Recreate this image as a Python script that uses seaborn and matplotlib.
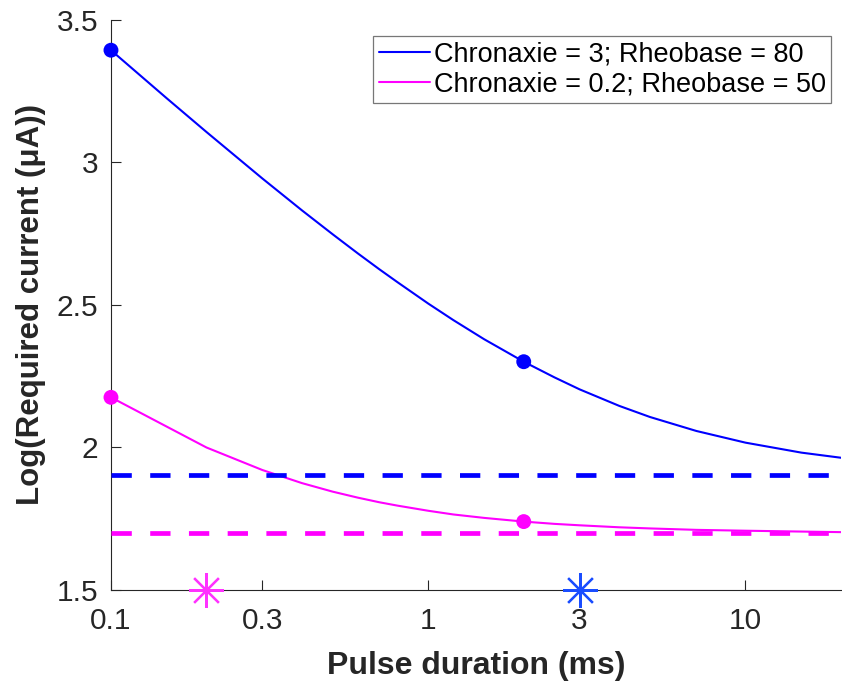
import matplotlib
matplotlib.use("Agg")
import matplotlib.pyplot as plt
import seaborn as sns
import pandas as pd

# pulse duration (ms) and log10 of required current
pulse_ms = [0.1, 0.15, 0.2, 0.3, 0.4, 0.5, 0.6, 0.7, 0.8, 1.0, 1.2, 1.5, 2.0, 2.5, 3.0, 4.0,
            5.0, 7.0, 10.0, 15.0, 20.0]
log_i_chr3 = [3.394, 3.225, 3.107, 2.944, 2.832, 2.748, 2.681, 2.626, 2.580, 2.505, 2.447,
              2.380, 2.301, 2.246, 2.204, 2.146, 2.107, 2.058, 2.017, 1.982, 1.964]
# magenta series is only sampled at 0.1 and 0.2 at the short end (visible kink)
pulse_ms_chr02 = [0.1, 0.2, 0.3, 0.4, 0.5, 0.6, 0.7, 0.8, 1.0, 1.2, 1.5, 2.0, 2.5, 3.0, 4.0,
                  5.0, 7.0, 10.0, 15.0, 20.0]
log_i_chr02 = [2.176, 2.000, 1.921, 1.875, 1.845, 1.824, 1.808, 1.796, 1.778, 1.765, 1.753,
               1.740, 1.732, 1.727, 1.720, 1.716, 1.711, 1.708, 1.705, 1.703]

labels = ["Chronaxie = 3; Rheobase = 80", "Chronaxie = 0.2; Rheobase = 50"]
chronaxie = [3, 0.2]
rheobase_log = [1.903, 1.699]
marked_pulse = [0.1, 2.0]
marked_chr3 = [3.394, 2.301]
marked_chr02 = [2.176, 1.740]

xticks = [0.1, 0.3, 1, 3, 10]
xticklabels = ["0.1", "0.3", "1", "3", "10"]
yticks = [1.5, 2, 2.5, 3, 3.5]
yticklabels = ["1.5", "2", "2.5", "3", "3.5"]

BLUE, MAGENTA = "#0000ff", "#ff00ff"
STAR_COLORS = ["#1a4dff", "#ff33ff"]
INK = "#262626"

sns.set_style("ticks")
plt.rcParams["font.family"] = ["Liberation Sans", "DejaVu Sans"]

fig = plt.figure(figsize=(8.42, 6.85), dpi=100)
ax = fig.add_axes([0.1318, 0.1387, 0.8670, 0.8321])

df = pd.DataFrame({"pulse": pulse_ms + pulse_ms_chr02,
                   "logi": log_i_chr3 + log_i_chr02,
                   "cond": [labels[0]] * len(pulse_ms) + [labels[1]] * len(pulse_ms_chr02)})
sns.lineplot(data=df, x="pulse", y="logi", hue="cond", palette=[BLUE, MAGENTA],
             linewidth=1.5, ax=ax, estimator=None, sort=True)

for ys, col in [(marked_chr3, BLUE), (marked_chr02, MAGENTA)]:
    sns.scatterplot(x=marked_pulse, y=ys, color=col, s=115, edgecolor="none", ax=ax,
                    legend=False, zorder=4, clip_on=False)

for rb, col in zip(rheobase_log, [BLUE, MAGENTA]):
    ax.axhline(rb, xmax=0.99, color=col, linewidth=3.4, dashes=(4.3, 3.9), zorder=3)

ax.set_xscale("log")
ax.set_xlim(0.1, 20)
ax.set_ylim(yticks[0], yticks[-1])

for c, col in zip(chronaxie, STAR_COLORS):
    ax.plot([c], [yticks[0]], marker=(8, 2, 0), markersize=25, markeredgewidth=1.6,
            color=col, clip_on=False, zorder=5)

ax.set_xticks(xticks)
ax.set_xticklabels(xticklabels)
ax.minorticks_off()
ax.set_yticks(yticks)
ax.set_yticklabels(yticklabels)
ax.tick_params(direction="in", length=7, width=0.8, color=INK, labelcolor=INK,
               labelsize=21.5)
ax.tick_params(axis="x", pad=12)
ax.tick_params(axis="y", pad=9)

sns.despine(ax=ax)
for s in ["left", "bottom"]:
    ax.spines[s].set_color(INK)
    ax.spines[s].set_linewidth(0.8)

ax.set_xlabel("Pulse duration (ms)", fontsize=23, fontweight="bold", labelpad=12)
ax.set_ylabel("Log(Required current (\u03bcA))", fontsize=22.5, fontweight="bold", labelpad=8)

leg = ax.legend(loc="upper right", bbox_to_anchor=(0.987, 0.972), frameon=True,
                fancybox=False, prop={"size": 19.5}, handlelength=1.9,
                handletextpad=0.15, borderpad=0.2, labelspacing=0.14, borderaxespad=0)
leg.get_frame().set_edgecolor("#555555")
leg.get_frame().set_linewidth(0.9)
for t in leg.get_texts():
    t.set_color("black")

fig.savefig("out.png", dpi=100)
